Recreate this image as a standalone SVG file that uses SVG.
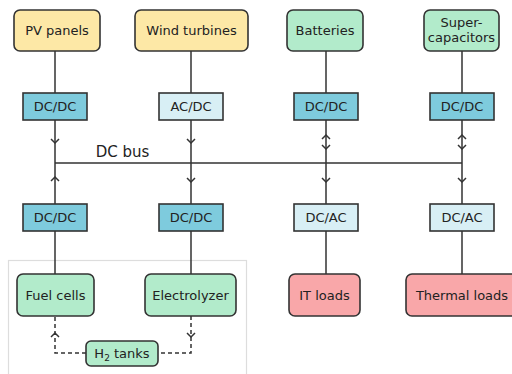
<svg xmlns="http://www.w3.org/2000/svg" width="512" height="374" viewBox="0 0 512 374">
<style>
text{font-family:"DejaVu Sans",sans-serif;font-size:13px;fill:#222;text-anchor:middle}
.n{stroke:#333;stroke-width:1.6}
.src{fill:#fde8a6}
.st{fill:#b2ebcb}
.ld{fill:#f9a7a9}
.dd{fill:#7ecbdd}
.ac{fill:#d8eff5}
.c{fill:none;stroke:#333;stroke-width:1.5}
.d{stroke-dasharray:4 3}
.grp{fill:none;stroke:#ddd;stroke-width:1.2}
</style>
<rect class="grp" x="8.5" y="260.5" width="238" height="120"/>
<g id="connectors">
<path class="c" d="M55 51V93M191 51V93M326 51V93M462 51V93"/>
<path class="c" d="M55 120V163M191 120V204M326 120V204M462 120V204M55 163V204M55 163H462"/>
<path class="c" d="M55 231V274M191 231V274M326 231V274M462 231V274"/>
<path class="c" d="M51 139L55 143L59 139M187 139L191 143L195 139"/>
<path class="c" d="M51 181L55 177L59 181M187 178L191 182L195 178M322 178L326 182L330 178M458 178L462 182L466 178"/>
<path class="c" d="M322 139L326 135L330 139M322 145L326 149L330 145M458 139L462 135L466 139M458 145L462 149L466 145"/>
<path class="c d" d="M86 353H55V316M191 316V353H158"/>
<path class="c" d="M51 337L55 333L59 337M187 333L191 337L195 333"/>
</g>
<g id="pv"><rect class="n src" x="14" y="10" width="86" height="41" rx="6"/><text x="57" y="35">PV panels</text></g>
<g id="wind"><rect class="n src" x="135" y="10" width="113" height="41" rx="6"/><text x="191.5" y="35">Wind turbines</text></g>
<g id="batteries"><rect class="n st" x="287" y="10" width="76" height="41" rx="6"/><text x="325" y="35">Batteries</text></g>
<g id="supercaps"><rect class="n st" x="424" y="10" width="75" height="41" rx="6"/><text x="461.5" y="27">Super-</text><text x="461.5" y="42">capacitors</text></g>
<g id="conv-pv"><rect class="n dd" x="23" y="93" width="64" height="27"/><text x="55" y="111">DC/DC</text></g>
<g id="conv-wind"><rect class="n ac" x="159" y="93" width="64" height="27"/><text x="191" y="111">AC/DC</text></g>
<g id="conv-bat"><rect class="n dd" x="294" y="93" width="64" height="27"/><text x="326" y="111">DC/DC</text></g>
<g id="conv-sc"><rect class="n dd" x="430" y="93" width="64" height="27"/><text x="462" y="111">DC/DC</text></g>
<g id="bus-label"><text x="122.5" y="157" style="font-size:15px">DC bus</text></g>
<g id="conv-fc"><rect class="n dd" x="23" y="204" width="64" height="27"/><text x="55" y="222">DC/DC</text></g>
<g id="conv-el"><rect class="n dd" x="159" y="204" width="64" height="27"/><text x="191" y="222">DC/DC</text></g>
<g id="conv-it"><rect class="n ac" x="294" y="204" width="64" height="27"/><text x="326" y="222">DC/AC</text></g>
<g id="conv-th"><rect class="n ac" x="430" y="204" width="64" height="27"/><text x="462" y="222">DC/AC</text></g>
<g id="fuel"><rect class="n st" x="17" y="274" width="77" height="42" rx="6"/><text x="55.5" y="300">Fuel cells</text></g>
<g id="elec"><rect class="n st" x="145" y="274" width="91" height="42" rx="6"/><text x="190.5" y="300">Electrolyzer</text></g>
<g id="it"><rect class="n ld" x="289" y="274" width="71" height="42" rx="6"/><text x="324.5" y="300">IT loads</text></g>
<g id="thermal"><rect class="n ld" x="406" y="274" width="112" height="42" rx="6"/><text x="462" y="300">Thermal loads</text></g>
<g id="h2"><rect class="n st" x="86" y="341" width="72" height="25" rx="5"/><text x="122" y="358">H<tspan style="font-size:9px" dy="3">2</tspan><tspan dy="-3"> tanks</tspan></text></g>
</svg>
